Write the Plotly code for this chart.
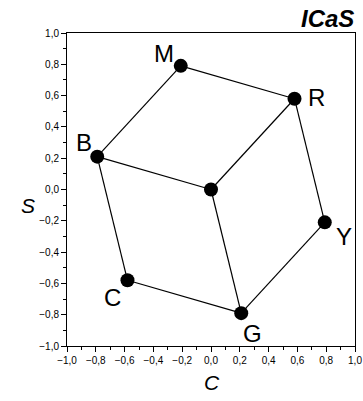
import plotly.graph_objects as go

# Data
names = ["M", "R", "B", "O", "Y", "C", "G"]
c_vals = [-0.21, 0.58, -0.79, 0.00, 0.79, -0.58, 0.21]
s_vals = [0.79, 0.58, 0.21, 0.00, -0.21, -0.58, -0.79]
labels = ["M", "R", "B", "", "Y", "C", "G"]
edges = [("M", "R"), ("M", "B"), ("B", "O"), ("B", "C"), ("C", "G"),
         ("G", "O"), ("G", "Y"), ("Y", "R"), ("R", "O")]
tick_vals = [-1.0, -0.8, -0.6, -0.4, -0.2, 0.0, 0.2, 0.4, 0.6, 0.8, 1.0]

idx = {n: i for i, n in enumerate(names)}
ex, ey = [], []
for a, b in edges:
    ex += [c_vals[idx[a]], c_vals[idx[b]], None]
    ey += [s_vals[idx[a]], s_vals[idx[b]], None]

fig = go.Figure()
fig.add_trace(go.Scatter(x=ex, y=ey, mode="lines",
                         line=dict(color="black", width=1.2), hoverinfo="skip"))
fig.add_trace(go.Scatter(x=c_vals, y=s_vals, mode="markers",
                         marker=dict(color="black", size=14)))

# label placement (pixel shifts)
positions = {"M": (-5, 12, "right"), "R": (11, 1, "left"),
             "B": (-3, 14, "right"), "Y": (9, -14, "left"),
             "C": (-4, -17, "right"), "G": (11, -20, "center")}
for n, lab in zip(names, labels):
    if not lab:
        continue
    dx, dy, anc = positions[n]
    fig.add_annotation(x=c_vals[idx[n]], y=s_vals[idx[n]], text=lab,
                       xshift=dx, yshift=dy,
                       showarrow=False, xanchor=anc, yanchor="middle",
                       font=dict(size=24, color="black", family="Liberation Sans"))

axis_common = dict(range=[-1, 1], tickvals=tick_vals, tickformat=".1f",
                   ticks="outside", ticklen=5, tickwidth=1, tickcolor="black",
                   showline=True, linecolor="black", linewidth=1, mirror=True,
                   showgrid=False, zeroline=False, automargin=False,
                   ticklabeloverflow="allow",
                   tickfont=dict(size=10, color="black", family="Liberation Sans"),
                   minor=dict(ticks="outside", ticklen=3, dtick=0.1, tickcolor="black",
                              showgrid=False))

fig.update_layout(
    width=363, height=401,
    margin=dict(l=67, r=8, t=33, b=55),
    plot_bgcolor="white", paper_bgcolor="white",
    separators=",.",
    showlegend=False,
    xaxis=dict(**axis_common),
    yaxis=dict(**axis_common),
)
fig.add_annotation(xref="paper", yref="paper", x=-0.165, y=0.5, yshift=-16, text="<i>S</i>",
                   showarrow=False, font=dict(size=21, color="black", family="Liberation Sans"))
fig.add_annotation(xref="paper", yref="paper", x=0.505, y=0, yshift=-36, text="<i>C</i>",
                   showarrow=False, xanchor="center", yanchor="middle",
                   font=dict(size=21, color="black", family="Liberation Sans"))
fig.add_annotation(xref="paper", yref="paper", x=1.0, y=1.0, xshift=1, yshift=-1,
                   text="<b><i>ICaS</i></b>",
                   showarrow=False, xanchor="right", yanchor="bottom",
                   font=dict(size=24, color="black", family="Liberation Sans"))

fig.write_html("out.html", config={"displayModeBar": False},
               post_script="document.body.style.margin='0';document.body.style.overflow='hidden';")
